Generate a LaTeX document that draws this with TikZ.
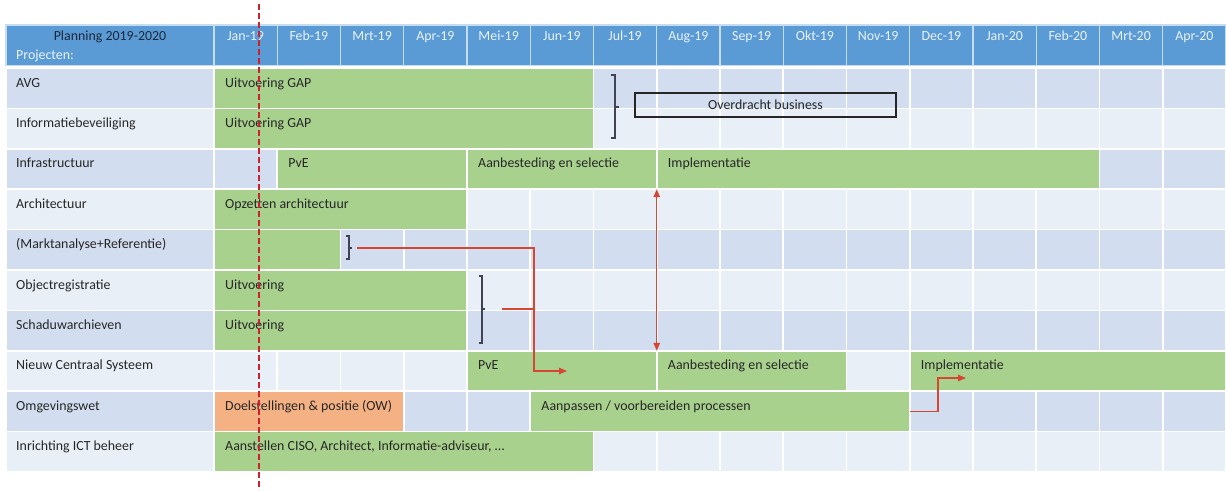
\documentclass[tikz,border=0pt]{standalone}
\usepackage{fontspec}
\setmainfont{Carlito}
\usepackage{tikz}
\usetikzlibrary{arrows.meta}
\usetikzlibrary{calc}
\usetikzlibrary{positioning}
\definecolor{hdrblue}{RGB}{91,155,213}
\definecolor{hdrline}{RGB}{196,221,242}
\definecolor{hdrtxt}{RGB}{234,242,250}
\definecolor{navytxt}{RGB}{28,40,58}
\definecolor{rowdark}{RGB}{210,222,239}
\definecolor{rowlight}{RGB}{233,239,247}
\definecolor{barg}{RGB}{169,209,142}
\definecolor{baro}{RGB}{244,177,131}
\definecolor{linkred}{RGB}{214,70,50}
\definecolor{todayred}{RGB}{208,32,48}
\definecolor{brackgray}{RGB}{66,66,86}
\definecolor{txt}{RGB}{38,38,38}

\begin{document}
\begin{tikzpicture}[x=1pt, y=-1pt, font=\fontsize{13.9}{16}\selectfont,
    cell/.style={draw=white, line width=1.6pt},
    hdrcell/.style={draw=hdrline, fill=hdrblue, line width=1.2pt},
    bar/.style={draw=white, line width=1.6pt, inner sep=0pt, outer sep=0pt,
      anchor=north west, minimum height=40.4pt},
    bartext/.style={anchor=base west, inner sep=0pt, text=txt},
    rowlabel/.style={anchor=base west, inner sep=0pt, text=txt},
    month/.style={anchor=base, inner sep=0pt, text=hdrtxt},
    brack/.style={draw=brackgray, line width=1.1pt},
    link/.style={draw=linkred, line width=1.2pt},
    linkarrow/.style={link, -{Triangle[length=8pt,width=6.5pt]}},
    today/.style={draw=todayred, line width=2pt, dash pattern=on 6pt off 3pt}]
    \useasboundingbox (0,0) rectangle (1226,490);

    \draw[hdrcell] (6,25) rectangle (214,65.5);
    \node[anchor=base, inner sep=0pt, text=navytxt] (plan) at (110,40.5) {Planning 2019-2020};
    \node[anchor=base west, inner sep=0pt, text=hdrtxt] (proj) at (16,59.5) {Projecten:};
    \foreach\m/\n in {0/Jan-19,1/Feb-19,2/Mrt-19,3/Apr-19,4/Mei-19,5/Jun-19,6/Jul-19,7/Aug-19,
      8/Sep-19,9/Okt-19,10/Nov-19,11/Dec-19,12/Jan-20,13/Feb-20,14/Mrt-20,15/Apr-20}{
      \draw[hdrcell] ({214+\m*63.25},25) rectangle ({214+(\m+1)*63.25},65.5);
      \node[month] (m\m) at ({214+(\m+0.5)*63.25},40.5) {\n};
    }

    \foreach\r/\l in {0/AVG,1/Informatiebeveiliging,2/Infrastructuur,3/Architectuur,
      4/{(Marktanalyse+Referentie)},5/Objectregistratie,6/Schaduwarchieven,
      7/Nieuw Centraal Systeem,8/Omgevingswet,9/Inrichting ICT beheer}{
      \ifodd\r \def\rc{rowlight}\else \def\rc{rowdark}\fi
      \draw[cell, fill=\rc] (6,{68+\r*40.4}) rectangle (214,{68+(\r+1)*40.4});
      \foreach\m in {0,...,15}{
        \draw[cell, fill=\rc] ({214+\m*63.25},{68+\r*40.4}) rectangle ({214+(\m+1)*63.25},{68+(\r+1)*40.4});
      }
      \node[rowlabel] (lab\r) at (16,{87+\r*40.4}) {\l};
    }

    \foreach\r/\a/\b/\c/\t in {
      0/0/6/barg/Uitvoering GAP,
      1/0/6/barg/Uitvoering GAP,
      2/1/4/barg/PvE,
      2/4/7/barg/Aanbesteding en selectie,
      2/7/14/barg/Implementatie,
      3/0/4/barg/Opzetten architectuur,
      4/0/2/barg/{},
      5/0/4/barg/Uitvoering,
      6/0/4/barg/Uitvoering,
      7/4/7/barg/PvE,
      7/7/10/barg/Aanbesteding en selectie,
      7/11/16/barg/Implementatie,
      8/0/3/baro/{Doelstellingen \& positie (OW)},
      8/5/11/barg/{Aanpassen / voorbereiden processen},
      9/0/6/barg/{Aanstellen CISO, Architect, Informatie-adviseur, \dots}}{
      \node[bar, fill=\c, minimum width={(\b-\a)*63.25pt}] (bar\r-\a) at ({214+\a*63.25},{68+\r*40.4}) {};
      \node[bartext] (txt\r-\a) at ({225+\a*63.25},{87+\r*40.4}) {\t};
    }

    \draw[brack] (611,75) -- (615,75) -- (615,138) -- (611,138) (615,107) -- (619,107);
    \draw[brack] (346,236) -- (349,236) -- (349,259) -- (346,259) (349,248) -- (352,248);
    \draw[brack] (479,276) -- (482,276) -- (482,343) -- (479,343) (482,309) -- (485,309);
    \node[draw=black!85, line width=1.1pt, minimum width=261pt, minimum height=24pt,
      inner sep=0pt, text=txt] (overdracht) at (765.5,105) {Overdracht business};

    \coordinate (mkt-out) at (357,248);
    \coordinate (obj-out) at (502,309);
    \coordinate (knee) at (534,371);
    \coordinate (pve-in) at (567,371);
    \coordinate (ow-knee) at (938,378);
    \coordinate (impl-in) at (966,378);
    \draw[linkarrow] (mkt-out) -| (knee) -- (pve-in);
    \draw[link] (obj-out) -- (obj-out -| knee);
    \draw[link, {Triangle[length=8pt,width=6.5pt]}-{Triangle[length=8pt,width=6.5pt]}]
      (bar2-7.south west) -- (bar7-7.north west);
    \draw[linkarrow] (bar8-5.east) -| (ow-knee) -- (impl-in);

    \coordinate (today-top) at (259,4);
    \coordinate (today-bot) at (259,490);
    \draw[today] (today-top) -- (today-bot);
\end{tikzpicture}
\end{document}
